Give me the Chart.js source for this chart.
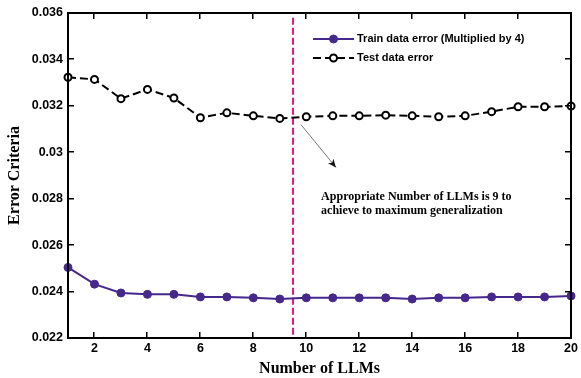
<!DOCTYPE html>
<html>
<head>
<meta charset="utf-8">
<script src="https://cdn.jsdelivr.net/npm/chart.js@4.4.1/dist/chart.umd.min.js"></script>
<style>
  html, body { margin: 0; padding: 0; background: #fff; }
  #wrap { width: 581px; height: 378px; }
</style>
</head>
<body>
<div id="wrap"><canvas id="grafico" width="581" height="378"></canvas></div>
<script>
// dados
const numLLMs = [1, 2, 3, 4, 5, 6, 7, 8, 9, 10, 11, 12, 13, 14, 15, 16, 17, 18, 19, 20];
const erroTreino = [0.02504, 0.02432, 0.02394, 0.02388, 0.02388, 0.02377, 0.02377, 0.02373, 0.02368, 0.02373,
                    0.02373, 0.02373, 0.02373, 0.02368, 0.02373, 0.02373, 0.02377, 0.02377, 0.02377, 0.02381];
const erroTeste = [0.03323, 0.03314, 0.03231, 0.03271, 0.03234, 0.03149, 0.03170, 0.03157, 0.03146, 0.03153,
                   0.03157, 0.03157, 0.03160, 0.03157, 0.03153, 0.03157, 0.03175, 0.03196, 0.03196, 0.03199];
const xTicks = [2, 4, 6, 8, 10, 12, 14, 16, 18, 20];
const yTicks = [0.022, 0.024, 0.026, 0.028, 0.03, 0.032, 0.034, 0.036];
const linhaCorte = [{ x: 9.5, y: 0.0358 }, { x: 9.5, y: 0.0221 }];
const seta = [{ x: 9.8, y: 0.03119 }, { x: 11.12, y: 0.02935 }];
const textoNota = ["Appropriate Number of LLMs is 9 to", "achieve to maximum generalization"];
const posNota = { x: 10.56, y: 0.02807 };

const roxo = "#46288c";

// moldura, ticks internos, legenda, seta e texto
const extras = {
  id: "extras",
  afterDraw(chart) {
    const c = chart.ctx;
    const sx = chart.scales.x, sy = chart.scales.y;
    const L = Math.round(sx.left), R = Math.round(sx.right), T = Math.round(sy.top), B = Math.round(sy.bottom);
    c.save();
    c.setLineDash([]);
    c.fillStyle = "#000";
    c.fillRect(L - 1, T - 1, R - L + 2, 2);
    c.fillRect(L - 1, B - 1, R - L + 2, 2);
    c.fillRect(L - 1, T - 1, 2, B - T + 2);
    c.fillRect(R - 1, T - 1, 2, B - T + 2);
    xTicks.forEach(v => {
      const px = Math.round(sx.getPixelForValue(v));
      c.fillRect(px - 1, B - 6, 1.5, 6);
      c.fillRect(px - 1, T, 1.5, 6);
    });
    yTicks.forEach(v => {
      const py = Math.round(sy.getPixelForValue(v));
      c.fillRect(L, py - 1, 6, 1.5);
      c.fillRect(R - 6, py - 1, 6, 1.5);
    });

    // ponta da seta
    const p0 = { x: sx.getPixelForValue(seta[0].x), y: sy.getPixelForValue(seta[0].y) };
    const p1 = { x: sx.getPixelForValue(seta[1].x), y: sy.getPixelForValue(seta[1].y) };
    const ang = Math.atan2(p1.y - p0.y, p1.x - p0.x);
    c.fillStyle = "#111";
    c.beginPath();
    c.moveTo(p1.x, p1.y);
    c.lineTo(p1.x - 9 * Math.cos(ang - 0.4), p1.y - 9 * Math.sin(ang - 0.4));
    c.lineTo(p1.x - 6 * Math.cos(ang), p1.y - 6 * Math.sin(ang));
    c.lineTo(p1.x - 9 * Math.cos(ang + 0.4), p1.y - 9 * Math.sin(ang + 0.4));
    c.closePath();
    c.fill();

    // texto da nota
    c.fillStyle = "#000";
    c.font = "bold 12px 'Liberation Serif', serif";
    c.textBaseline = "middle";
    c.textAlign = "left";
    const nx = sx.getPixelForValue(posNota.x), ny = sy.getPixelForValue(posNota.y);
    textoNota.forEach((t, i) => c.fillText(t, nx, ny + i * 14));

    // legenda
    c.font = "bold 11px 'Liberation Sans', Arial, sans-serif";
    [0, 1].forEach(i => {
      const ds = chart.data.datasets[i];
      const y = 39 + i * 19;
      c.strokeStyle = ds.borderColor;
      c.lineWidth = 2;
      c.setLineDash(ds.borderDash || []);
      c.beginPath(); c.moveTo(313, y); c.lineTo(354, y); c.stroke();
      c.setLineDash([]);
      c.beginPath();
      c.arc(333.5, y, ds.pointRadius, 0, Math.PI * 2);
      c.fillStyle = ds.pointBackgroundColor;
      c.fill();
      c.lineWidth = ds.pointBorderWidth;
      c.strokeStyle = ds.pointBorderColor;
      c.stroke();
      c.fillStyle = "#000";
      c.fillText(ds.label, 357, y);
    });
    c.restore();
  }
};

const ctx = document.getElementById("grafico").getContext("2d");
new Chart(ctx, {
  type: "line",
  data: {
    datasets: [
      {
        label: "Train data error (Multiplied by 4)",
        data: numLLMs.map((n, i) => ({ x: n, y: erroTreino[i] })),
        borderColor: roxo,
        backgroundColor: roxo,
        borderWidth: 2,
        pointRadius: 4,
        pointBackgroundColor: roxo,
        pointBorderColor: roxo,
        pointBorderWidth: 1,
        tension: 0,
        clip: false
      },
      {
        label: "Test data error",
        data: numLLMs.map((n, i) => ({ x: n, y: erroTeste[i] })),
        borderColor: "#000",
        borderWidth: 2,
        borderDash: [8, 4],
        pointRadius: 3.5,
        pointBackgroundColor: "#fff",
        pointBorderColor: "#000",
        pointBorderWidth: 2,
        tension: 0,
        clip: false
      },
      {
        label: "corte",
        data: linhaCorte,
        borderColor: "#e0197d",
        borderWidth: 2,
        borderDash: [7, 3],
        pointRadius: 0
      },
      {
        label: "seta",
        data: seta,
        borderColor: "#777",
        borderWidth: 1,
        pointRadius: 0
      }
    ]
  },
  options: {
    responsive: false,
    animation: false,
    layout: { padding: { top: 13, right: 6, left: 0, bottom: 0 } },
    plugins: {
      legend: { display: false },
      tooltip: { enabled: false }
    },
    scales: {
      x: {
        type: "linear",
        min: 1,
        max: 20,
        afterBuildTicks: s => { s.ticks = xTicks.map(v => ({ value: v })); },
        afterFit: s => { s.height = 40; },
        grid: { display: false, drawTicks: false },
        border: { display: false },
        ticks: {
          color: "#000",
          padding: 3,
          maxRotation: 0,
          font: { family: "'Liberation Sans', Arial, sans-serif", weight: "bold", size: 12.5 }
        },
        title: {
          display: true,
          text: "Number of LLMs",
          color: "#000",
          padding: { top: 0, bottom: 0 },
          font: { family: "'Liberation Serif', serif", weight: "bold", size: 16 }
        }
      },
      y: {
        min: 0.022,
        max: 0.036,
        afterBuildTicks: s => { s.ticks = yTicks.map(v => ({ value: v })); },
        afterFit: s => { s.width = 68; },
        grid: { display: false, drawTicks: false },
        border: { display: false },
        ticks: {
          color: "#000",
          padding: 5,
          callback: v => String(Number(v.toFixed(3))),
          font: { family: "'Liberation Sans', Arial, sans-serif", weight: "bold", size: 12.5 }
        },
        title: {
          display: true,
          text: "Error Criteria",
          color: "#000",
          padding: { top: 5, bottom: 0 },
          font: { family: "'Liberation Serif', serif", weight: "bold", size: 16 }
        }
      }
    }
  },
  plugins: [extras]
});
</script>
</body>
</html>
